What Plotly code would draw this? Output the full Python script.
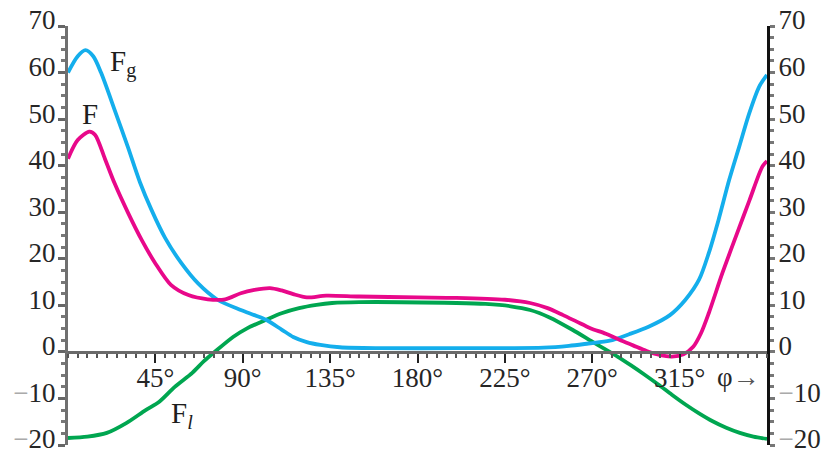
import plotly.graph_objects as go

# Angle (degrees) and force values for each curve
phi_fg = [0, 5, 9, 13, 17, 24, 31, 37, 43, 50, 58.5, 67, 77, 89, 96, 102,
          110, 116, 123, 130, 140, 160, 200, 245, 258, 268, 279, 289, 299, 310,
          318, 325, 330, 335, 340.5, 345.7, 350.8, 356, 360]
fg = [60, 63.5, 64.8, 63.5, 60, 52, 43.8, 36.5, 30.5, 24.5, 19, 14.7, 11.2, 9, 7.9, 6.9,
      4.8, 3.2, 2.1, 1.5, 1.0, 0.8, 0.8, 0.9, 1.3, 1.8, 2.4, 3.8, 5.4, 7.9,
      11.2, 15.5, 21.2, 28.3, 36.9, 44.1, 51.2, 57, 59.5]

phi_f = [0, 5, 11, 14, 19, 24, 31, 38, 45, 53, 62, 72, 81, 89, 96, 104, 110, 116, 123,
         133, 150, 180, 200, 225, 238, 247, 255, 262, 269, 277, 284, 291, 298, 305, 311,
         317, 322, 326, 330, 337, 344, 351, 357.6, 360]
f = [41.5, 45.5, 47.3, 46.6, 41.5, 36.2, 29.8, 24, 19, 14.4, 12.2, 11.3, 11.3, 12.6, 13.3, 13.7, 13.2, 12.4, 11.7,
     12.1, 11.9, 11.7, 11.6, 11.2, 10.5, 9.4, 7.9, 6.5, 5.1, 3.9, 2.6, 1.4, 0.2, -0.7, -1.0,
     -0.5, 1.1, 4, 8.3, 16.9, 24.8, 32.6, 39.8, 41]

phi_fl = [0, 10, 20, 30, 40, 47, 55, 64, 70, 75, 85, 92, 102, 110, 119, 128, 136, 150, 200,
          215, 228, 238, 248, 260, 270, 277, 283, 290, 297, 304, 311, 318, 325, 332, 339, 346,
          353, 360]
fl = [-18.5, -18.2, -17.4, -15.3, -12.5, -10.7, -7.5, -4.5, -2, -0.2, 3.2, 5, 6.9, 8.3, 9.4, 10.1, 10.5, 10.7, 10.5,
      10.3, 9.8, 9.0, 7.4, 4.7, 2.2, 0.5, -1.0, -2.9, -4.9, -7.0, -9.2, -11.3, -13.2, -14.9, -16.3, -17.4,
      -18.2, -18.7]

x_ticks = [45, 90, 135, 180, 225, 270, 315]
x_labels = ["45°", "90°", "135°", "180°", "225°", "270°", "315°"]
y_ticks = [-20, -10, 0, 10, 20, 30, 40, 50, 60, 70]
y_labels = ["<span style='color:#aaaaaa'>−</span>20", "<span style='color:#aaaaaa'>−</span>10",
            "0", "10", "20", "30", "40", "50", "60", "70"]

BLUE = "#14AEEC"
MAGENTA = "#E8088A"
GREEN = "#00A650"
SERIF = "Liberation Serif"

fig = go.Figure()
for xs, ys, col in [(phi_fl, fl, GREEN), (phi_fg, fg, BLUE), (phi_f, f, MAGENTA)]:
    fig.add_trace(go.Scatter(x=xs, y=ys, mode="lines",
                             line=dict(color=col, width=3.8, shape="spline", smoothing=0.8),
                             showlegend=False, hoverinfo="skip"))

# hidden trace so the right-hand axis is drawn
fig.add_trace(go.Scatter(x=[0], y=[0], yaxis="y2", mode="markers",
                         marker=dict(opacity=0), showlegend=False, hoverinfo="skip"))

tick_font = dict(family=SERIF, size=27, color="#262626")

fig.update_layout(
    width=822, height=452,
    margin=dict(l=68, r=55, t=26, b=7),
    paper_bgcolor="white", plot_bgcolor="white",
    xaxis=dict(range=[0, 360], anchor="free", position=20 / 90, automargin=False,
               showline=True, linecolor="#6a6a6a", linewidth=3,
               showgrid=False, zeroline=False,
               tickvals=x_ticks, ticktext=x_labels, ticks="outside",
               ticklen=9, tickwidth=2, tickcolor="#222", tickfont=tick_font,
               ticklabelstandoff=-8,
               minor=dict(dtick=5, ticks="outside", ticklen=4, tickwidth=2, tickcolor="#555")),
    yaxis=dict(range=[-20, 70], automargin=False, showline=True, linecolor="#707070", linewidth=3,
               showgrid=False, zeroline=False,
               tickvals=y_ticks, ticktext=y_labels, ticks="outside",
               ticklen=7, tickwidth=3, tickcolor="#666", tickfont=tick_font,
               ticklabelstandoff=-3, ticklabelshift=-6, ticklabeloverflow="allow",
               minor=dict(dtick=2.5, ticks="outside", ticklen=4, tickwidth=3, tickcolor="#777")),
    yaxis2=dict(range=[-20, 70], overlaying="y", side="right", anchor="x", automargin=False,
                showline=True, linecolor="#111", linewidth=3,
                showgrid=False, zeroline=False,
                tickvals=y_ticks, ticktext=y_labels, ticks="outside",
                ticklen=5, tickwidth=3, tickcolor="#777", tickfont=tick_font,
                ticklabelstandoff=-2, ticklabelshift=-6, ticklabeloverflow="allow",
                minor=dict(dtick=2.5, ticks="outside", ticklen=4, tickwidth=3, tickcolor="#777")),
)

label_font = dict(family=SERIF, size=29, color="#1e1e1e")
fig.add_annotation(x=20.5, y=62, text="F<sub>g</sub>", showarrow=False,
                   xanchor="left", yanchor="middle", font=label_font)
fig.add_annotation(x=6, y=51, text="F", showarrow=False,
                   xanchor="left", yanchor="middle", font=label_font)
fig.add_annotation(x=52, y=-13.5, text="F<sub><i>l</i></sub>", showarrow=False,
                   xanchor="left", yanchor="middle", font=label_font)
fig.add_annotation(x=333, y=-5.5, text="φ<span style='color:#555'>→</span>", showarrow=False,
                   xanchor="left", yanchor="middle", font=dict(family=SERIF, size=27, color="#262626"))

fig.write_html("out.html")
